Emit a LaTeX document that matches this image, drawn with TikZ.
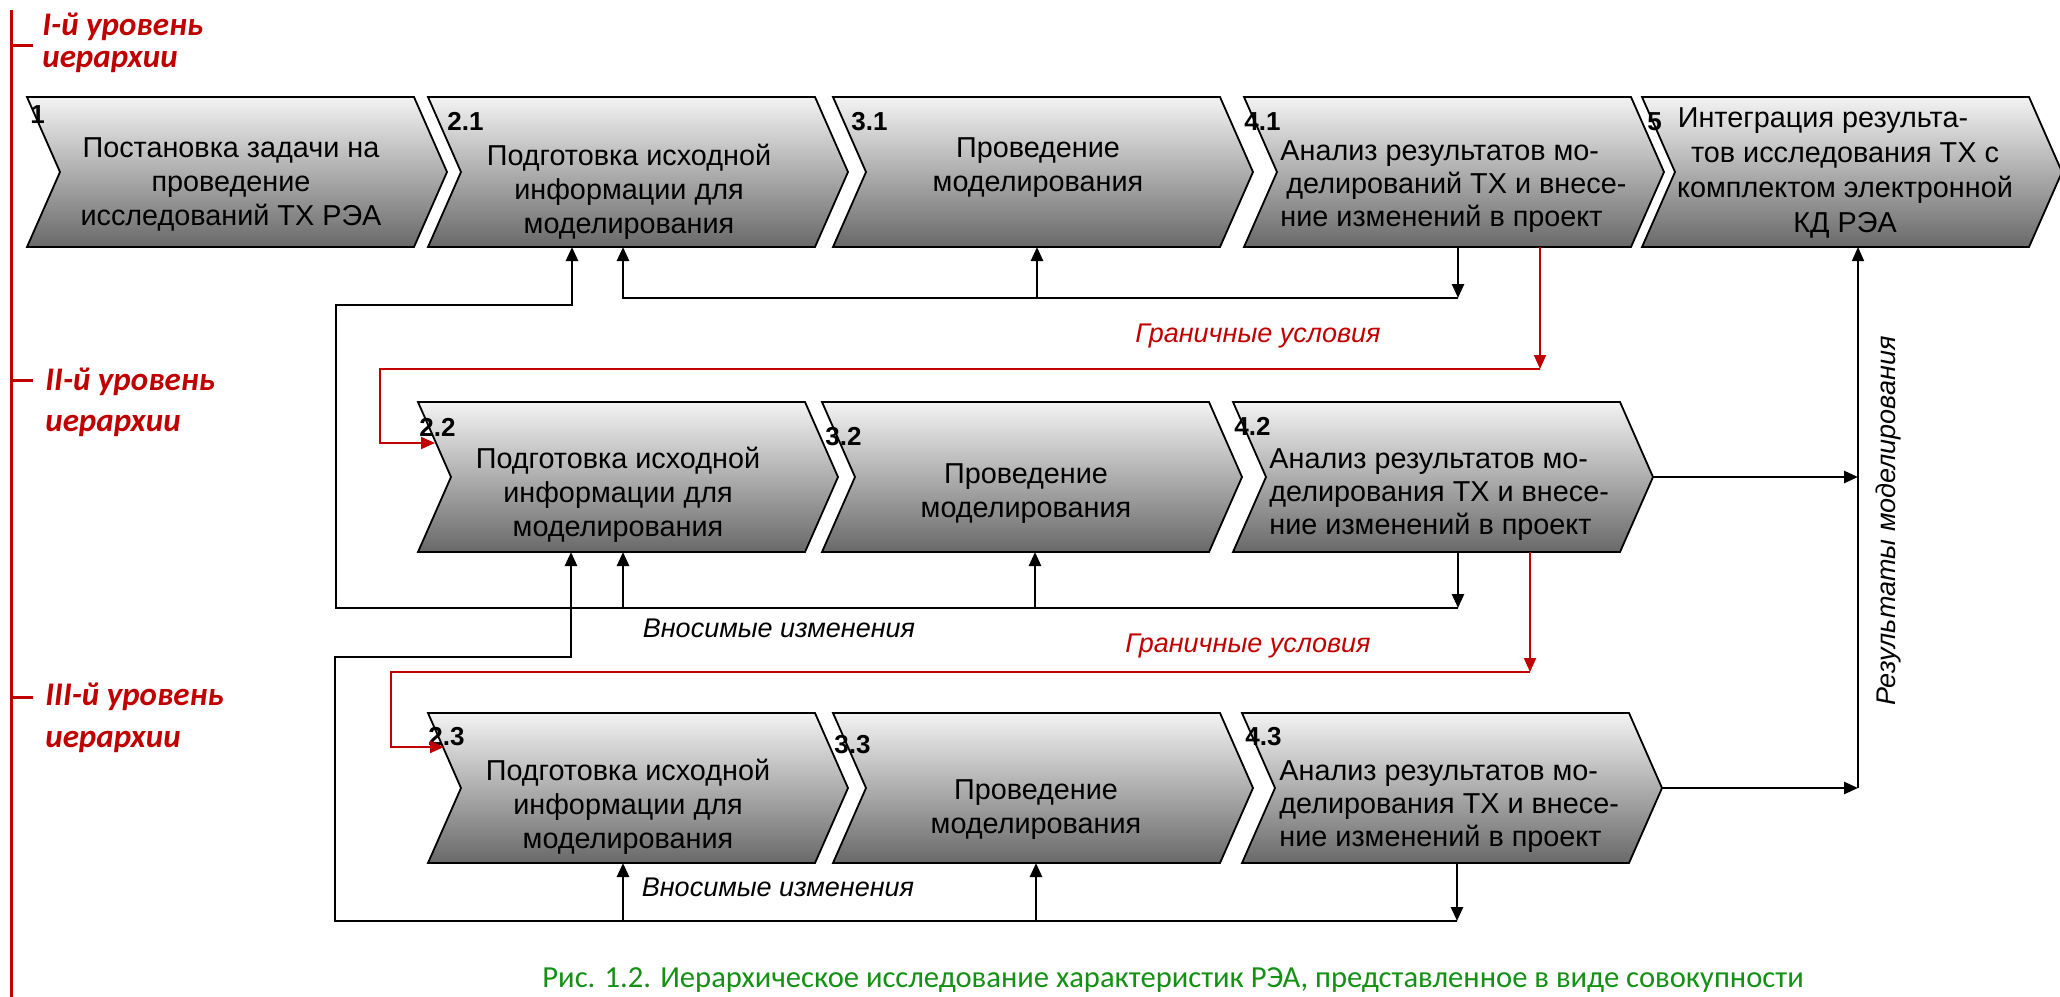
\documentclass[tikz,border=0pt]{standalone}
\usepackage{fontspec}
\setmainfont{Liberation Sans}
\newfontfamily\carlito{Carlito}
\usetikzlibrary{arrows.meta,calc}
\definecolor{dred}{RGB}{192,0,0}
\definecolor{capgreen}{RGB}{20,145,20}
\definecolor{ctop}{RGB}{243,243,243}
\definecolor{cbot}{RGB}{105,105,105}
\newcommand\chevbox[3]{%
  \node[anch] (#1) at ({#2+210},{#3+75}) {};
  \path[chev] (#2,#3) -- ++(387,0) -- ++(33,75) -- ++(-33,75) -- ++(-387,0) -- ++(33,-75) -- cycle;
}
\begin{document}
\begin{tikzpicture}[x=0.5pt,y=-0.5pt,
  anch/.style={rectangle,minimum width=210pt,minimum height=75pt,inner sep=0pt,outer sep=0pt},
  chev/.style={draw=black,line width=0.9pt,top color=ctop,bottom color=cbot},
  btext/.style={font=\fontsize{14.4}{17}\selectfont,align=center,inner sep=0pt},
  ltext/.style={font=\fontsize{14.4}{16.5}\selectfont,align=left,anchor=west,inner sep=0pt},
  num/.style={font=\bfseries\fontsize{13}{15}\selectfont,anchor=north west,inner sep=0pt},
  lvl/.style={text=dred,align=left,anchor=west,inner sep=0pt},
  note/.style={font=\itshape\fontsize{13.5}{16}\selectfont,inner sep=0pt},
  fb/.style={draw=black,line width=1.3pt},
  thinl/.style={draw=black,line width=0.8pt},
  redl/.style={draw=dred,line width=1pt},
  arr/.style={-{Triangle[length=7pt,width=6pt]}}]
\useasboundingbox (0,0) rectangle (2060,996);

% level scale
\coordinate (lt) at (11,10);
\coordinate (lb) at (11,1000);
\draw[dred,line width=1.5pt] (lt) -- (lb);
\coordinate (tk1) at (11,45);
\coordinate (tk2) at (11,380);
\coordinate (tk3) at (11,697);
\draw[dred,line width=1.5pt] (tk1) -- ++(22,0);
\draw[dred,line width=1.5pt] (tk2) -- ++(22,0);
\draw[dred,line width=1.5pt] (tk3) -- ++(22,0);
\node[lvl,font=\carlito\bfseries\itshape\fontsize{16.5}{16}\selectfont] (lv1) at (42,43) {I-й уровень\\иерархии};
\node[lvl,font=\carlito\bfseries\itshape\fontsize{16.5}{20.5}\selectfont] (lv2) at (45,402) {II-й уровень\\иерархии};
\node[lvl,font=\carlito\bfseries\itshape\fontsize{16.5}{21}\selectfont] (lv3) at (45,718) {III-й уровень\\иерархии};

% boxes
\chevbox{b1}{27}{97}
\chevbox{b21}{428}{97}
\chevbox{b31}{833}{97}
\chevbox{b41}{1244}{97}
\chevbox{b5}{1642}{97}
\chevbox{b22}{418}{402}
\chevbox{b32}{822}{402}
\chevbox{b42}{1233}{402}
\chevbox{b23}{428}{713}
\chevbox{b33}{833}{713}
\chevbox{b43}{1242}{713}

% numbers
\node[num] (n1) at (30,105) {1};
\node[num] (n21) at (447,112) {2.1};
\node[num] (n31) at (851,112) {3.1};
\node[num] (n41) at (1244,112) {4.1};
\node[num] (n5) at (1647,112) {5};
\node[num] (n22) at (419,418) {2.2};
\node[num] (n32) at (825,427) {3.2};
\node[num] (n42) at (1234,417) {4.2};
\node[num] (n23) at (428,727) {2.3};
\node[num] (n33) at (834,735) {3.3};
\node[num] (n43) at (1245,727) {4.3};

% box texts
\node[btext] (t1) at (231,184) {Постановка задачи на\\проведение\\исследований ТХ РЭА};
\node[btext] (t21) at (629,192) {Подготовка исходной\\информации для\\моделирования};
\node[btext] (t31) at (1038,168) {Проведение\\моделирования};
\node[ltext] (t41) at (1280,187) {Анализ результатов мо-\\\hspace*{3pt}делирований ТХ и внесе-\\ние изменений в проект};
\node[btext,font=\fontsize{14.4}{17.5}\selectfont] (t5) at (1845,173) {\hspace*{-22pt}Интеграция результа-\\тов исследования ТХ с\\комплектом электронной\\КД РЭА};
\node[btext] (t22) at (618,495) {Подготовка исходной\\информации для\\моделирования};
\node[btext] (t32) at (1026,494) {Проведение\\моделирования};
\node[ltext] (t42) at (1269,495) {Анализ результатов мо-\\делирования ТХ и внесе-\\ние изменений в проект};
\node[btext] (t23) at (628,807) {Подготовка исходной\\информации для\\моделирования};
\node[btext] (t33) at (1036,810) {Проведение\\моделирования};
\node[ltext] (t43) at (1279,807) {Анализ результатов мо-\\делирования ТХ и внесе-\\ние изменений в проект};

% row 1 feedback
\coordinate (r1) at (1458,298);
\coordinate (l1) at (623,298);
\coordinate (m1) at (1037,298);
\draw[fb,arr] (b41.south -| r1) -- (r1);
\draw[fb,arr] (r1) -- (l1) -- (l1 |- b21.south);
\draw[fb,arr] (m1) -- (m1 |- b31.south);

% row 2 feedback
\coordinate (r2) at (1458,608);
\coordinate (k2) at (336,608);
\coordinate (k2u) at (336,305);
\coordinate (j2) at (572,305);
\coordinate (a22) at (623,608);
\coordinate (a32) at (1035,608);
\draw[fb,arr] (b42.south -| r2) -- (r2);
\draw[fb,arr] (r2) -- (k2) -- (k2u) -- (j2) -- (j2 |- b21.south);
\draw[fb,arr] (a22) -- (a22 |- b22.south);
\draw[fb,arr] (a32) -- (a32 |- b32.south);

% row 3 feedback
\coordinate (r3) at (1457,921);
\coordinate (k3) at (335,921);
\coordinate (k3u) at (335,657);
\coordinate (j3) at (571,657);
\coordinate (a23) at (623,921);
\coordinate (a33) at (1036,921);
\draw[fb,arr] (b43.south -| r3) -- (r3);
\draw[fb,arr] (r3) -- (k3) -- (k3u) -- (j3) -- (j3 |- b22.south);
\draw[fb,arr] (a23) -- (a23 |- b23.south);
\draw[fb,arr] (a33) -- (a33 |- b33.south);

% boundary conditions (red)
\coordinate (g1) at (1540,369);
\coordinate (g1l) at (380,369);
\coordinate (g1e) at (435,443);
\draw[redl,arr] (b41.south -| g1) -- (g1);
\draw[redl,arr] (g1) -- (g1l) |- (g1e);
\coordinate (g2) at (1530,672);
\coordinate (g2l) at (391,672);
\coordinate (g2e) at (444,747);
\draw[redl,arr] (b42.south -| g2) -- (g2);
\draw[redl,arr] (g2) -- (g2l) |- (g2e);

% results to box 5
\coordinate (vx) at (1858,788);
\draw[fb,arr] (b42.east) -- (b42.east -| vx);
\draw[fb,arr] (b43.east) -- (b43.east -| vx);
\draw[thinl,arr] (vx) -- (vx |- b5.south);

% notes
\node[note,text=dred] (gu1) at (1258,336) {Граничные условия};
\node[note,text=dred] (gu2) at (1248,646) {Граничные условия};
\node[note] (vi2) at (779,628) {Вносимые изменения};
\node[note] (vi3) at (778,887) {Вносимые изменения};
\node[note,rotate=90] (rez) at (1888,521) {Результаты моделирования};

% caption
\node[font=\carlito\fontsize{15.3}{17}\selectfont,text=capgreen,anchor=base,inner sep=0pt] (cap) at (1173,987) {Рис. 1.2. Иерархическое исследование характеристик РЭА, представленное в виде совокупности};
\end{tikzpicture}
\end{document}
